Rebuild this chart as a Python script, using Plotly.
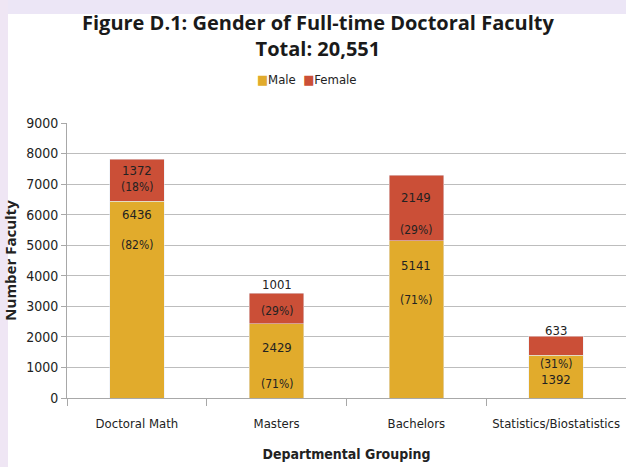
import plotly.graph_objects as go

categories = ["Doctoral Math", "Masters", "Bachelors", "Statistics/Biostatistics"]
male = [6436, 2429, 5141, 1392]
female = [1372, 1001, 2149, 633]
male_pct = ["(82%)", "(71%)", "(71%)", "(69%)"]
female_pct = ["(18%)", "(29%)", "(29%)", "(31%)"]

# label placement (data units on y axis)
male_num_y = [6000, 1650, 4350, 600]
male_pct_y = [5000, 450, 3200, -380]
female_num_y = [7450, 3700, 6550, 2200]
female_pct_y = [6900, 2850, 5500, 1100]

MALE_C = "#E1AB2C"
FEMALE_C = "#CB4F37"
NARROW = "DejaVu Sans Condensed, Roboto, sans-serif"
BOLD = "Open Sans, DejaVu Sans, sans-serif"

fig = go.Figure()
fig.add_trace(go.Bar(x=categories, y=male, name="Male", marker_color=MALE_C, showlegend=False))
fig.add_trace(go.Bar(x=categories, y=female, name="Female", marker_color=FEMALE_C, showlegend=False))

ann = []
for i, c in enumerate(categories):
    ann.append(dict(x=c, y=male_num_y[i], text=str(male[i]), showarrow=False,
                    font=dict(size=13, family=NARROW, color="#222")))
    ann.append(dict(x=c, y=male_pct_y[i], text=male_pct[i], showarrow=False,
                    font=dict(size=12, family=NARROW, color="#222")))
    ann.append(dict(x=c, y=female_num_y[i], text=str(female[i]), showarrow=False,
                    font=dict(size=13, family=NARROW, color="#222")))
    ann.append(dict(x=c, y=female_pct_y[i], text=female_pct[i], showarrow=False,
                    font=dict(size=12, family=NARROW, color="#222")))

# title and legend as paper annotations (plot area: y=1 at px 123, y=0 at px 398)
ann.append(dict(xref="paper", yref="paper", x=(318 - 67) / 559, y=(398 - 36) / 275,
                xanchor="center", yanchor="middle", showarrow=False,
                text="<b>Figure D.1: Gender of Full-time Doctoral Faculty<br>Total: 20,551</b>",
                font=dict(family=BOLD, size=20, color="#1a1a1a")))
ann.append(dict(xref="paper", yref="paper", x=(307 - 67) / 559, y=(398 - 79) / 275,
                xanchor="center", yanchor="middle", showarrow=False,
                text=(f'<span style="color:{MALE_C}">■</span>Male  '
                      f'<span style="color:{FEMALE_C}">■</span>Female'),
                font=dict(family=NARROW, size=13, color="#222")))

fig.update_layout(
    barmode="stack",
    bargap=0.61,
    width=626, height=467,
    margin=dict(l=67, r=0, t=123, b=69, autoexpand=False),
    paper_bgcolor="white",
    plot_bgcolor="white",
    showlegend=False,
    annotations=ann,
    shapes=[
        dict(type="rect", xref="paper", yref="paper", x0=-0.2, x1=1.1,
             y0=(398 - 14) / 275, y1=1.6, fillcolor="#ECE6F6", line_width=0, layer="below"),
        dict(type="rect", xref="paper", yref="paper", x0=-67 / 559, x1=-59 / 559,
             y0=-0.3, y1=1.6, fillcolor="#EFE6F4", line_width=0, layer="below"),
    ],
)
fig.update_yaxes(
    range=[0, 9000], dtick=1000, automargin=False,
    showgrid=True, gridcolor="#BDBDBD", gridwidth=1,
    showline=True, linecolor="#A8A8A8",
    ticks="outside", ticklen=5, tickcolor="#A8A8A8",
    tickfont=dict(family=NARROW, size=14, color="#222"),
    title=dict(text="<b>Number Faculty</b>", standoff=8,
               font=dict(family=BOLD, size=15, color="#222")),
    zeroline=False,
)
fig.update_xaxes(
    automargin=False, tickangle=0,
    showline=True, linecolor="#A8A8A8",
    ticks="outside", tickson="boundaries", ticklen=7, tickcolor="#A8A8A8",
    ticklabelstandoff=13,
    tickfont=dict(family=NARROW, size=13, color="#222"),
    title=dict(text="<b>Departmental Grouping</b>", standoff=19,
               font=dict(family=NARROW, size=14, color="#222")),
)

fig.write_html("out.html", config={"displayModeBar": False},
               post_script="document.body.style.margin='0';")
